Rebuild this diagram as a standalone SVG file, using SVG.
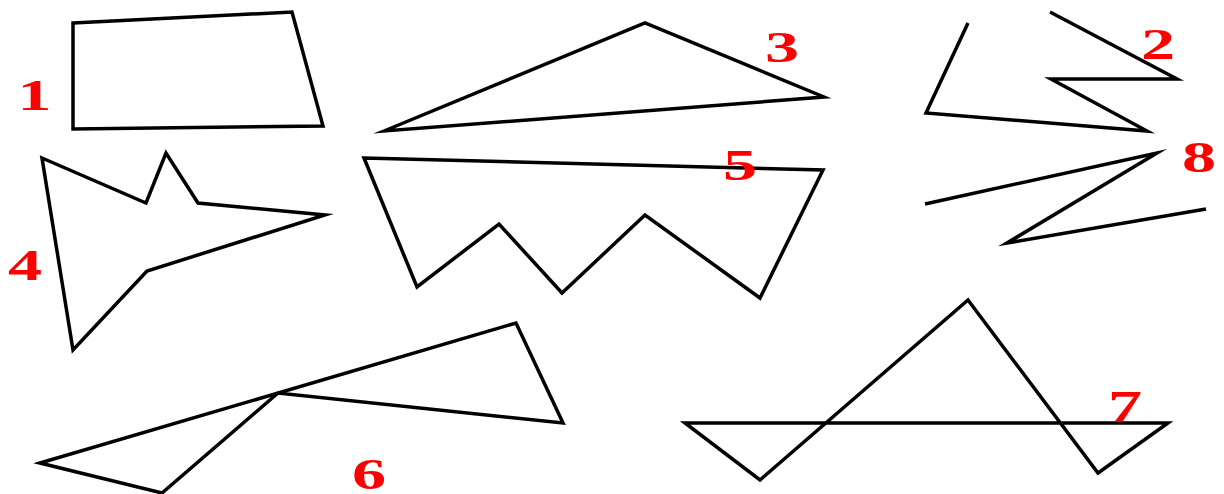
<svg xmlns="http://www.w3.org/2000/svg" width="1224" height="494" viewBox="0 0 1224 494">
<style>
.s{fill:none;stroke:#000;stroke-width:3.5;stroke-linejoin:miter;stroke-miterlimit:10}
.n{fill:#ff0000;font-family:"Liberation Serif","DejaVu Serif",serif;font-weight:bold;font-size:44px;text-anchor:middle}
</style>
<rect width="1224" height="494" fill="#fff"/>
<g id="shape1">
<polygon class="s" points="73,23 292,12 323,126 73,129"/>
<text class="n" transform="translate(34.5,110) scale(1.55,1)">1</text>
</g>
<g id="shape2">
<polyline class="s" points="968,23 926,113 1147,131 1051,79 1177,79 1050,12"/>
<text class="n" transform="translate(1158,59) scale(1.55,1)">2</text>
</g>
<g id="shape3">
<polygon class="s" points="384,131 645,23 824,97"/>
<text class="n" transform="translate(782,62) scale(1.55,1)">3</text>
</g>
<g id="shape4">
<polygon class="s" points="42,158 146,203 166,153 198,203 325,215 147,271 73,350"/>
<text class="n" transform="translate(25,280) scale(1.55,1)">4</text>
</g>
<g id="shape5">
<polygon class="s" points="364,158 823,170 760,298 645,215 562,293 499,224 417,287"/>
<text class="n" transform="translate(740,180) scale(1.55,1)">5</text>
</g>
<g id="shape6">
<polygon class="s" points="40,463 516,323 563,423 278,393 162,493"/>
<text class="n" transform="translate(369,489) scale(1.55,1)">6</text>
</g>
<g id="shape7">
<polygon class="s" points="685,423 1168,423 1098,473 968,300 760,480"/>
<text class="n" transform="translate(1125,421) scale(1.55,1)">7</text>
</g>
<g id="shape8">
<polyline class="s" points="925,204 1157,153 1007,243 1206,209"/>
<text class="n" transform="translate(1199,172) scale(1.55,1)">8</text>
</g>
<g id="connectors"></g>
</svg>
